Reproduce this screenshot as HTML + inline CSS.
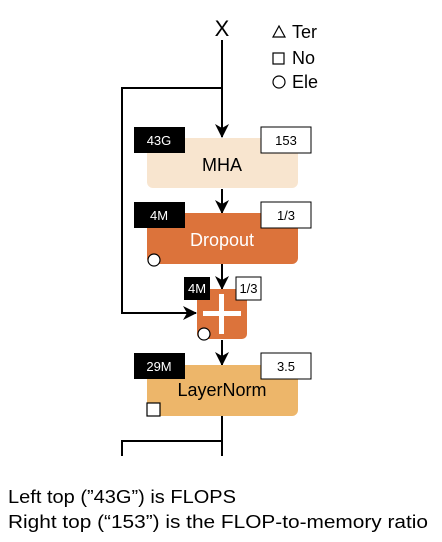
<!DOCTYPE html>
<html><head><meta charset="utf-8"><style>
body{margin:0;background:#fff;width:442px;height:542px;overflow:hidden}
svg{display:block}
text{font-family:"Liberation Sans",sans-serif}
</style></head><body>
<svg width="442" height="542" viewBox="0 0 442 542">
<defs><marker id="a" markerWidth="14" markerHeight="14" refX="13" refY="7" orient="auto" markerUnits="userSpaceOnUse"><path d="M0,0 L14,7 L0,14 L4,7 Z" fill="#000"/></marker></defs>
<text x="222" y="36" font-size="22" text-anchor="middle">X</text>
<g stroke="#000" stroke-width="2" fill="none">
<line x1="222" y1="40" x2="222" y2="137" marker-end="url(#a)"/>
<polyline points="222,88 122,88 122,313 196,313" marker-end="url(#a)"/>
<line x1="222" y1="189" x2="222" y2="213" marker-end="url(#a)"/>
<line x1="222" y1="264" x2="222" y2="289" marker-end="url(#a)"/>
<line x1="222" y1="340" x2="222" y2="365" marker-end="url(#a)"/>
<polyline points="222,416 222,456"/>
<polyline points="222,441 122,441 122,456"/>
</g>
<path d="M273,37 L279,26 L285,37 Z" fill="none" stroke="#000" stroke-width="1.2"/>
<text x="292" y="38" font-size="18">Ter</text>
<rect x="273" y="53" width="11" height="11" fill="none" stroke="#000" stroke-width="1.2"/>
<text x="292" y="64" font-size="18">No</text>
<circle cx="279" cy="82" r="6" fill="none" stroke="#000" stroke-width="1.2"/>
<text x="292" y="88" font-size="18">Ele</text>
<rect x="147" y="138" width="151" height="50" rx="6" fill="#f8e5cf"/>
<text x="222" y="171" font-size="18" text-anchor="middle">MHA</text>
<rect x="134" y="127" width="51" height="26" fill="#000"/>
<text x="159" y="145" font-size="13" fill="#fff" text-anchor="middle">43G</text>
<rect x="261" y="127" width="50" height="26" fill="#fff" stroke="#000"/>
<text x="286" y="145" font-size="13" text-anchor="middle">153</text>
<rect x="147" y="213" width="151" height="51" rx="6" fill="#dc733b"/>
<text x="222" y="246" font-size="18" fill="#fff" text-anchor="middle">Dropout</text>
<rect x="134" y="202" width="51" height="26" fill="#000"/>
<text x="159" y="220" font-size="13" fill="#fff" text-anchor="middle">4M</text>
<rect x="261" y="202" width="50" height="26" fill="#fff" stroke="#000"/>
<text x="286" y="220" font-size="13" text-anchor="middle">1/3</text>
<circle cx="154" cy="260" r="6" fill="#fff" stroke="#000" stroke-width="1.2"/>
<rect x="197" y="289" width="50" height="50" rx="5" fill="#dc733b"/>
<rect x="203" y="311" width="38" height="5" fill="#fff"/>
<rect x="219" y="294" width="5" height="40" fill="#fff"/>
<rect x="184" y="277" width="26" height="23" fill="#000"/>
<text x="197" y="293" font-size="13" fill="#fff" text-anchor="middle">4M</text>
<rect x="236" y="277" width="25" height="23" fill="#fff" stroke="#000"/>
<text x="248.5" y="293" font-size="13" text-anchor="middle">1/3</text>
<circle cx="204" cy="334" r="6" fill="#fff" stroke="#000" stroke-width="1.2"/>
<rect x="147" y="365" width="151" height="51" rx="6" fill="#edb66a"/>
<text x="222" y="396" font-size="18" text-anchor="middle">LayerNorm</text>
<rect x="134" y="353" width="51" height="26" fill="#000"/>
<text x="159" y="371" font-size="13" fill="#fff" text-anchor="middle">29M</text>
<rect x="261" y="353" width="50" height="26" fill="#fff" stroke="#000"/>
<text x="286" y="371" font-size="13" text-anchor="middle">3.5</text>
<rect x="147" y="403" width="13" height="13" fill="#fff" stroke="#000" stroke-width="1.2"/>
<text x="8" y="503" font-size="18" textLength="228" lengthAdjust="spacingAndGlyphs">Left top (”43G”) is FLOPS</text>
<text x="8" y="528" font-size="18" textLength="420" lengthAdjust="spacingAndGlyphs">Right top (“153”) is the FLOP-to-memory ratio</text>
</svg>
</body></html>
